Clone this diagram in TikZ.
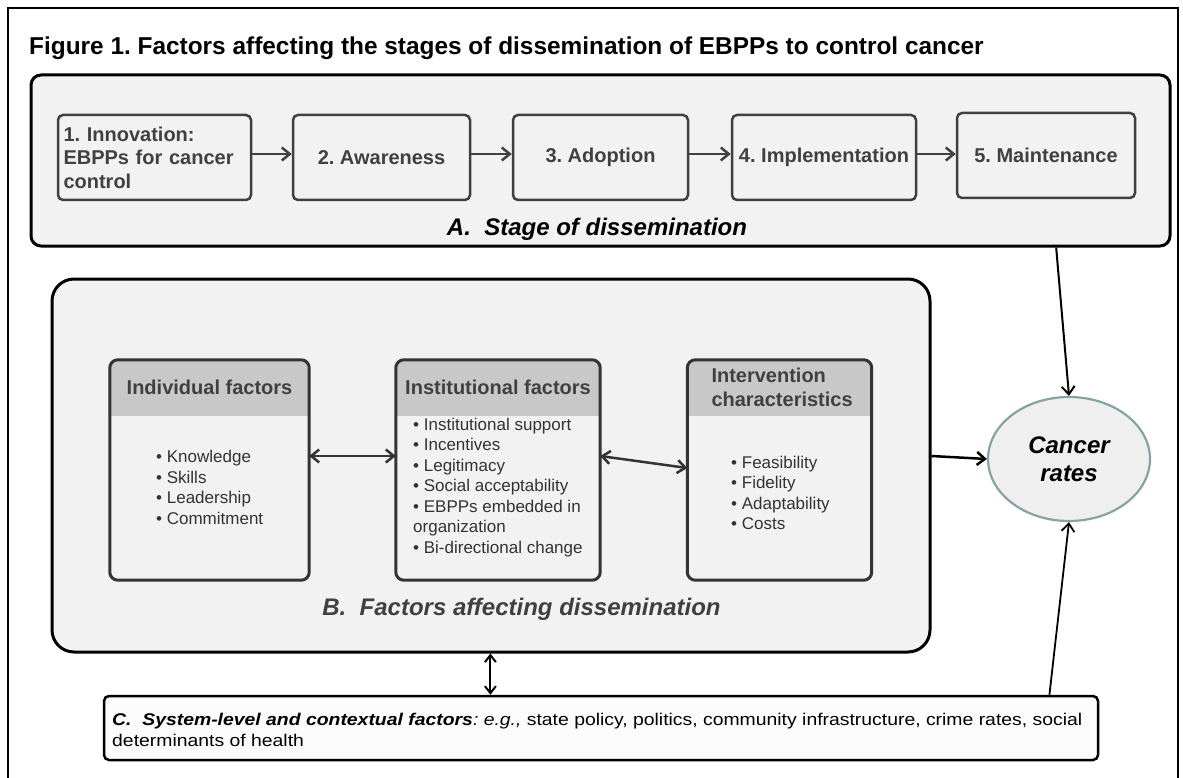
\documentclass[tikz,border=0pt]{standalone}
\usepackage{fontspec}
\setmainfont{Liberation Sans}
\newfontfamily\widefont[FakeStretch=1.14]{Liberation Sans}
\usetikzlibrary{arrows.meta,shapes.geometric,calc}
\frenchspacing

\definecolor{panel}{HTML}{F2F2F2}
\definecolor{ink}{HTML}{404040}
\definecolor{darkline}{HTML}{333333}
\definecolor{hdr}{HTML}{C8C8C8}
\definecolor{ringc}{HTML}{86A3A3}
\definecolor{ellfill}{HTML}{EFEFEF}
\definecolor{cfill}{HTML}{FCFCFC}

\newcommand{\setfs}[2]{\fontsize{#1}{#2}\selectfont}
\newcommand{\bl}{\textbullet\ }

% factor box: name, centre x, centre y, width
\newcommand{\factorbox}[4]{%
  \node[factorfill, minimum width=#4] (#1) at (#2,#3) {};
  \begin{scope}
    \clip[rounded corners=8] (#1.north west) rectangle (#1.south east);
    \fill[hdr] (#1.north west) rectangle ([yshift=-56]#1.north east);
  \end{scope}
  \draw[factorline, rounded corners=8] (#1.north west) rectangle (#1.south east);
}

\tikzset{
  panelbox/.style={draw=black, line width=3, fill=panel, inner sep=0},
  stagebox/.style={draw=ink, line width=2.5, fill=panel, rounded corners=5,
    inner sep=0, minimum height=85, font=\bfseries\setfs{20}{23.5}, text=ink},
  stagearrow/.style={draw=ink, line width=2.5, -{Straight Barb[length=8pt,width=13pt]}},
  factorfill/.style={fill=panel, rounded corners=8, minimum height=220, inner sep=0},
  factorline/.style={draw=darkline, line width=3},
  hdrtext/.style={font=\bfseries\setfs{20}{24}, text=ink, inner sep=0},
  bul/.style={font=\setfs{17}{20.5}, text=darkline, align=left, inner sep=0, anchor=west},
  twoway/.style={draw=darkline, line width=2.5,
    {Straight Barb[length=8pt,width=13pt]}-{Straight Barb[length=8pt,width=13pt]}},
  toell/.style={draw=black, -{Straight Barb[length=8pt,width=13pt]}},
}

\begin{document}
\begin{tikzpicture}[x=1pt, y=-1pt]
  \useasboundingbox (0,0) rectangle (1183,778);
  \clip (0,0) rectangle (1183,778);

  % outer frame (open at the bottom of the page)
  \draw[line width=1.6] (8,795) -- (8,8) -- (1178,8) -- (1178,795);

  % title
  \node[anchor=base west, inner sep=0, font=\bfseries\setfs{24.4}{28}] (title) at (29,55)
    {Figure 1. Factors affecting the stages of dissemination of EBPPs to control cancer};

  % A: stages of dissemination
  \node[panelbox, rounded corners=10, minimum width=1139, minimum height=171] (boxA) at (600.5,160.5) {};
  \node[stagebox, minimum width=193, text width=182, align=left] (s1) at (154.5,157.5)
    {1. Innovation:\\EBPPs for cancer\\control};
  \node[stagebox, minimum width=177] (s2) at (381.5,157.5) {2. Awareness};
  \node[stagebox, minimum width=175] (s3) at (600.5,157.5) {3. Adoption};
  \node[stagebox, minimum width=184] (s4) at (824,157.5) {4. Implementation};
  \node[stagebox, minimum width=178] (s5) at (1046,155.5) {5. Maintenance};
  \draw[stagearrow] ([yshift=3.5]s1.east) -- ([yshift=3.5]s2.west);
  \draw[stagearrow] ([yshift=3.5]s2.east) -- ([yshift=3.5]s3.west);
  \draw[stagearrow] ([yshift=3.5]s3.east) -- ([yshift=3.5]s4.west);
  \draw[stagearrow] ([yshift=3.5]s4.east) -- ([yshift=1.5]s5.west);
  \node[anchor=base, inner sep=0, font=\bfseries\itshape\setfs{24}{28}] (labA) at (597,235)
    {A.\ \ Stage of dissemination};

  % B: factors affecting dissemination
  \node[panelbox, rounded corners=22, minimum width=878, minimum height=373] (boxB) at (491,465.5) {};
  \factorbox{ind}{209.5}{470}{199}
  \factorbox{inst}{498}{470}{204}
  \factorbox{intv}{779.5}{470}{184}
  \node[hdrtext] (indh) at ([yshift=-28]ind.north) {Individual factors};
  \node[hdrtext] (insth) at ([yshift=-28]inst.north) {Institutional factors};
  \node[hdrtext, align=left, anchor=west] (intvh) at ([xshift=24,yshift=-28]intv.north west)
    {Intervention\\characteristics};
  \node[bul] (indl) at (156,487.5)
    {\bl Knowledge\\\bl Skills\\\bl Leadership\\\bl Commitment};
  \node[bul] (instl) at (413,487.5)
    {\bl Institutional support\\\bl Incentives\\\bl Legitimacy\\\bl Social acceptability\\
     \bl EBPPs embedded in\\organization\\\bl Bi-directional change};
  \node[bul] (intvl) at (731,493)
    {\bl Feasibility\\\bl Fidelity\\\bl Adaptability\\\bl Costs};
  \draw[twoway] ([yshift=14]ind.east) -- ([yshift=14]inst.west);
  \draw[twoway] ([yshift=14]inst.east) -- ([yshift=2]intv.west);
  \node[anchor=base, inner sep=0, text=ink, font=\bfseries\itshape\setfs{24}{28}] (labB) at (521.5,615)
    {B.\ \ Factors affecting dissemination};

  % outcome
  \node[ellipse, draw=ringc, line width=2.2, fill=ellfill, minimum width=162, minimum height=124,
    inner sep=0, align=center, font=\bfseries\itshape\setfs{24}{28}] (ell) at (1069,459)
    {Cancer\\rates};

  % C: system-level factors
  \node[draw=black, line width=2.5, fill=cfill, rounded corners=5, minimum width=994,
    minimum height=64, inner sep=0] (boxC) at (601,728) {};
  \node[anchor=west, align=left, inner sep=0, font=\widefont\setfs{17}{21}] (labC) at (112,729.5)
    {\textbf{\textit{C.\ \ System-level and contextual factors}}\textit{: e.g.,} state policy,
     politics, community infrastructure, crime rates, social\\determinants of health};

  % connectors
  \coordinate (aOut) at ($(boxA.south west)!0.899!(boxA.south east)$);
  \draw[toell, line width=2] (aOut) -- (ell.north);
  \draw[toell, line width=2.5] ([yshift=9.5]boxB.east) -- (ell.west);
  \coordinate (cOut) at ($(boxC.north west)!0.95!(boxC.north east)$);
  \draw[toell, line width=1.8] (cOut) -- (ell.south);
  \coordinate (bc) at ($(boxC.north west)!0.389!(boxC.north east)$);
  \draw[draw=black, line width=2,
    {Straight Barb[length=7pt,width=11pt]}-{Straight Barb[length=7pt,width=11pt]}]
    (bc |- boxB.south) -- (bc);
\end{tikzpicture}
\end{document}
